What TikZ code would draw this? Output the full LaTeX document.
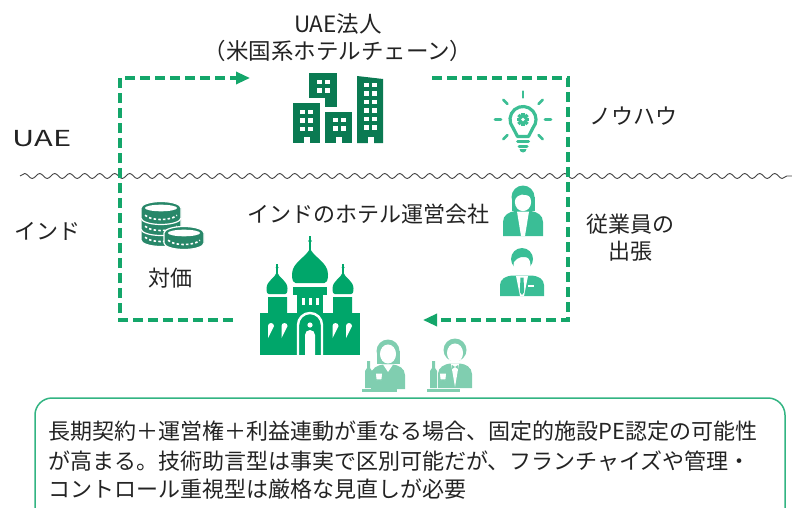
\documentclass[tikz,border=0pt]{standalone}
\usepackage{fontspec}
\setmainfont{Noto Sans CJK JP}
\usepackage{tikz}
\usetikzlibrary{arrows.meta}
\usetikzlibrary{decorations.pathmorphing}
\definecolor{flowgreen}{RGB}{20,166,106}
\definecolor{bldgreen}{RGB}{10,122,82}
\definecolor{bulbgreen}{RGB}{60,190,148}
\definecolor{coingreen}{RGB}{40,135,105}
\definecolor{churchgreen}{RGB}{0,166,106}
\definecolor{staffgreen}{RGB}{58,190,150}
\definecolor{waitergreen}{RGB}{128,206,176}
\definecolor{notegreen}{RGB}{50,180,130}
\definecolor{inkgrey}{RGB}{35,35,35}
\tikzset{
	% dashed flows between head office and the local operator
	flow line/.style={flowgreen,line width=3.2pt,dash pattern=on 10pt off 5pt},
	flow arrow/.style={flow line,-{Triangle[length=14pt,width=12pt]}},
	% plain labels and the note at the bottom
	tag/.style={text=inkgrey,inner sep=0pt,font=\fontsize{22}{27}\selectfont,align=center},
	note line/.style={text=inkgrey,inner sep=0pt,anchor=base west,font=\fontsize{22}{29}\selectfont}
}

\begin{document}
\begin{tikzpicture}[x=1pt,y=1pt]
	% macros for the small pictograms
	\newcommand{\onion}[4]{% x, base y, half width, height
		\fill[churchgreen] (#1,#2+#4) .. controls (#1+0.15*#3,#2+0.75*#4) and (#1+#3,#2+0.6*#4) .. (#1+#3,#2+0.25*#4)
		.. controls (#1+#3,#2+0.05*#4) and (#1+0.9*#3,#2) .. (#1+0.8*#3,#2) -- (#1-0.8*#3,#2)
		.. controls (#1-0.9*#3,#2) and (#1-#3,#2+0.05*#4) .. (#1-#3,#2+0.25*#4)
		.. controls (#1-#3,#2+0.6*#4) and (#1-0.15*#3,#2+0.75*#4) .. (#1,#2+#4) -- cycle;}
	\newcommand{\coinband}[2]{% x, y of the top face
		\filldraw[coingreen,draw=white,line width=1.2pt] (#1-20,#2) -- (#1-20,#2-10)
		arc[start angle=180,end angle=360,x radius=20,y radius=6.5] -- (#1+20,#2)
		arc[start angle=0,end angle=180,x radius=20,y radius=6.5] -- cycle;
		\draw[white,line width=1.6pt,dash pattern=on 2.5pt off 2.2pt] (#1,#2-5) ++(200:17 and 6.5)
		arc[start angle=200,end angle=340,x radius=17,y radius=6.5];}
	\newcommand{\cointop}[2]{\fill[white] (#1,#2) ellipse [x radius=16,y radius=3.3];}
	\newcommand{\waiter}[2]{% head centre
		\fill[waitergreen] (#1,#2) circle (11.5);
		\fill[waitergreen] (#1-17,#2-38) -- (#1-17,#2-24) .. controls (#1-17,#2-17) and (#1-10,#2-14) .. (#1-5,#2-13.5)
		-- (#1+5,#2-13.5) .. controls (#1+10,#2-14) and (#1+17,#2-17) .. (#1+17,#2-24) -- (#1+17,#2-38) -- cycle;
		\filldraw[fill=white,draw=white,line width=1pt] (#1,#2-3) ellipse [x radius=7.5,y radius=9];}
	\newcommand{\bottle}[1]{%
		\fill[waitergreen] (#1,-388) -- (#1,-371) -- (#1+2,-368) -- (#1+2,-361) -- (#1+5,-361) -- (#1+5,-368)
		-- (#1+7,-371) -- (#1+7,-388) -- cycle;}
	\newcommand{\tray}[3]{% glass x, tray from, tray to
		\fill[waitergreen] (#2,-388.5) rectangle (#3,-391.5);
		\filldraw[fill=white,draw=waitergreen,line width=1.3pt] (#1-4,-373) -- (#1+4,-373) -- (#1+3,-380) -- (#1-3,-380) -- cycle;
		\draw[waitergreen,line width=1.3pt] (#1,-380) -- (#1,-386) (#1-3,-386.5) -- (#1+3,-386.5);}

	\useasboundingbox (0,0) rectangle (792,-508);

	% border between the two countries
	\coordinate (waveL) at (20,-176);
	\coordinate (waveR) at (792,-176);
	\draw[inkgrey!85,line width=0.9pt,decorate,decoration={snake,segment length=15pt,amplitude=2.5pt}] (waveL) -- (waveR);

	% labels
	\node[tag,font=\fontsize{22.5}{27}\selectfont] (hqname) at (338,-38) {UAE法人\\（米国系ホテルチェーン）};
	\node[tag,xscale=1.4] (uae) at (42,-139) {UAE};
	\node[tag] (india) at (47,-231) {インド};
	\node[tag] (knowhow) at (633,-116) {ノウハウ};
	\node[tag] (fee) at (170,-278) {対価};
	\node[tag] (opco) at (368,-214) {インドのホテル運営会社};
	\node[tag] (secondment) at (630,-237.5) {従業員の\\出張};

	% fee goes up to the UAE company
	\coordinate (fee0) at (233,-320);
	\coordinate (fee1) at (120,-320);
	\coordinate (fee2) at (120,-78);
	\coordinate (fee3) at (250,-78);
	\draw[flow arrow] (fee0) -- (fee1) -- (fee2) -- (fee3);
	% know-how and staff come down to India
	\coordinate (know0) at (432,-78);
	\coordinate (know1) at (568,-78);
	\coordinate (know2) at (568,-320);
	\coordinate (know3) at (423,-320);
	\draw[flow arrow] (know0) -- (know1) -- (know2) -- (know3);

	% office towers
	\fill[bldgreen] (309,-73) rectangle (337,-98);
	\fill[bldgreen] (325,-98) rectangle (337,-107);
	\fill[bldgreen] (293,-103) rectangle (320,-143);
	\fill[bldgreen] (325,-112) rectangle (352,-143);
	\fill[bldgreen] (357,-76) -- (383,-79) -- (383,-143) -- (357,-143) -- cycle;
	\foreach \wx in {300,308} \foreach \wy in {110,118.5,127} \fill[white] (\wx,-\wy) rectangle ++(4.5,-4.5);
	\foreach \wx in {317,325} \foreach \wy in {80,88.5} \fill[white] (\wx,-\wy) rectangle ++(4.5,-4.5);
	\foreach \wx in {333,341} \foreach \wy in {118,126.5} \fill[white] (\wx,-\wy) rectangle ++(4.5,-4.5);
	\foreach \wx in {364,372} \foreach \wy in {83,91.5,100,108.5,117,125.5} \fill[white] (\wx,-\wy) rectangle ++(4.5,-4.5);
	\foreach \dx in {303.5,336,367.5} \fill[white] (\dx,-137) rectangle ++(6,-7);

	% light bulb
	\begin{scope}[shift={(523,-119.5)}]
		\draw[bulbgreen,line width=3.2pt,line join=round] (-5.5,-17) -- (220:13) arc[start angle=220,end angle=-40,radius=13] -- (5.5,-17) -- cycle;
		\draw[bulbgreen,line width=3pt,line cap=round] (-5.5,-22) -- (5.5,-22) (-4,-26.5) -- (4,-26.5);
		\fill[bulbgreen] (-3.5,-29.5) -- (3.5,-29.5) arc[start angle=0,end angle=-180,radius=3.5] -- cycle;
		\foreach \a in {0,45,90,135,180,225,315} \draw[bulbgreen,line width=2.6pt,line cap=round] (\a:22) -- (\a:28);
		\fill[bulbgreen] (0,0) circle (4.6);
		\foreach \a in {0,45,...,315} \fill[bulbgreen,rotate=\a] (-1.6,3.5) rectangle (1.6,6.4);
		\fill[white] (0,0) circle (1.9);
	\end{scope}

	% coins
	\coinband{161}{-230}
	\coinband{161}{-219}
	\coinband{161}{-208}
	\cointop{161}{-208}
	\coinband{184}{-233}
	\cointop{184}{-233}

	% hotel building
	\onion{310}{-283}{18}{35}
	\onion{277}{-294}{10.5}{22}
	\onion{343}{-294}{10.5}{22}
	\draw[churchgreen,line width=2pt] (310,-250) -- (310,-236) (277,-274) -- (277,-264) (343,-274) -- (343,-264);
	\fill[churchgreen] (310,-241) circle (1.8) (277,-267.5) circle (1.5) (343,-267.5) circle (1.5);
	\fill[churchgreen] (293,-286.5) rectangle (327,-294.5);
	\fill[churchgreen] (297,-294) rectangle (323,-314);
	\fill[churchgreen] (268,-297) rectangle (287,-314) (333,-297) rectangle (352,-314);
	\fill[churchgreen] (260,-313) rectangle (360,-355);
	\foreach \wx in {301.5,308.5,315.5} \fill[white] (\wx,-298) rectangle ++(3.5,-6.5);
	\foreach \wx in {271,284.5,335.5,349} \fill[white] (\wx-3,-338) -- (\wx-3,-326) arc[start angle=180,end angle=0,radius=3] -- cycle;
	\draw[white,line width=2.4pt] (298,-356) -- (298,-325) arc[start angle=180,end angle=0,radius=12] -- (322,-356);
	\fill[white] (305,-356) -- (305,-335) arc[start angle=180,end angle=0,radius=5] -- (315,-356) -- cycle;
	\fill[white] (310,-325) circle (2.6);

	% staff sent over: woman
	\fill[staffgreen] (523,-197) circle (11.5);
	\fill[staffgreen] (511.5,-197) rectangle (534.5,-211);
	\fill[staffgreen] (503,-236) -- (503,-222) .. controls (503,-215) and (509,-212) .. (515,-211) -- (531,-211)
		.. controls (537,-212) and (543,-215) .. (543,-222) -- (543,-236) -- cycle;
	\fill[white] (517,-211.5) -- (529,-211.5) -- (525,-236) -- (521,-236) -- cycle;
	\filldraw[fill=white,draw=white,line width=1.2pt] (523,-202) ellipse [x radius=7.5,y radius=8.5];
	\fill[staffgreen] (515,-199) .. controls (518,-194) and (524,-193) .. (531,-197) -- (531,-192) -- (515,-192) -- cycle;
	% staff sent over: man
	\fill[staffgreen] (522,-259) circle (11);
	\fill[staffgreen] (500,-296) -- (500,-285) .. controls (500,-279) and (506,-276) .. (512,-275.5) -- (532,-275.5)
		.. controls (538,-276) and (544,-279) .. (544,-285) -- (544,-296) -- cycle;
	\filldraw[fill=white,draw=white,line width=1pt] (522,-265) ellipse [x radius=8,y radius=9.5];
	\fill[staffgreen] (514,-262) .. controls (517,-257) and (524,-255) .. (530,-259) -- (530,-254) -- (514,-254) -- cycle;
	\fill[white] (516,-276) -- (528,-276) -- (524,-296) -- (520,-296) -- cycle;
	\fill[staffgreen] (520.5,-277.5) -- (523.5,-277.5) -- (524.2,-292) -- (522,-295) -- (519.8,-292) -- cycle;
	\fill[white] (528,-285) rectangle (534,-286.5);

	% waiting staff in the hotel
	\fill[waitergreen] (376.5,-351) rectangle (399.5,-364);
	\waiter{388}{-351}
	\fill[white] (383,-364.5) -- (393,-364.5) -- (388,-372) -- cycle;
	\bottle{365}
	\tray{379}{362}{397}
	\waiter{455}{-350}
	\fill[white] (451,-363.5) -- (459,-363.5) -- (455,-387) -- cycle;
	\fill[waitergreen] (452,-365) -- (455,-367) -- (458,-365) -- (458,-369) -- (455,-367) -- (452,-369) -- cycle;
	\bottle{430}
	\tray{443}{427}{460}

	% note box
	\begin{scope}
		\clip (0,0) rectangle (792,-508);
		\draw[notegreen,line width=1.5pt,rounded corners=17pt] (35,-398) rectangle (785,-530);
	\end{scope}
	\node[note line] (note1) at (48,-439) {長期契約＋運営権＋利益連動が重なる場合、固定的施設PE認定の可能性};
	\node[note line] (note2) at (48,-469) {が高まる。技術助言型は事実で区別可能だが、フランチャイズや管理・};
	\node[note line] (note3) at (48,-497) {コントロール重視型は厳格な見直しが必要};
\end{tikzpicture}
\end{document}
